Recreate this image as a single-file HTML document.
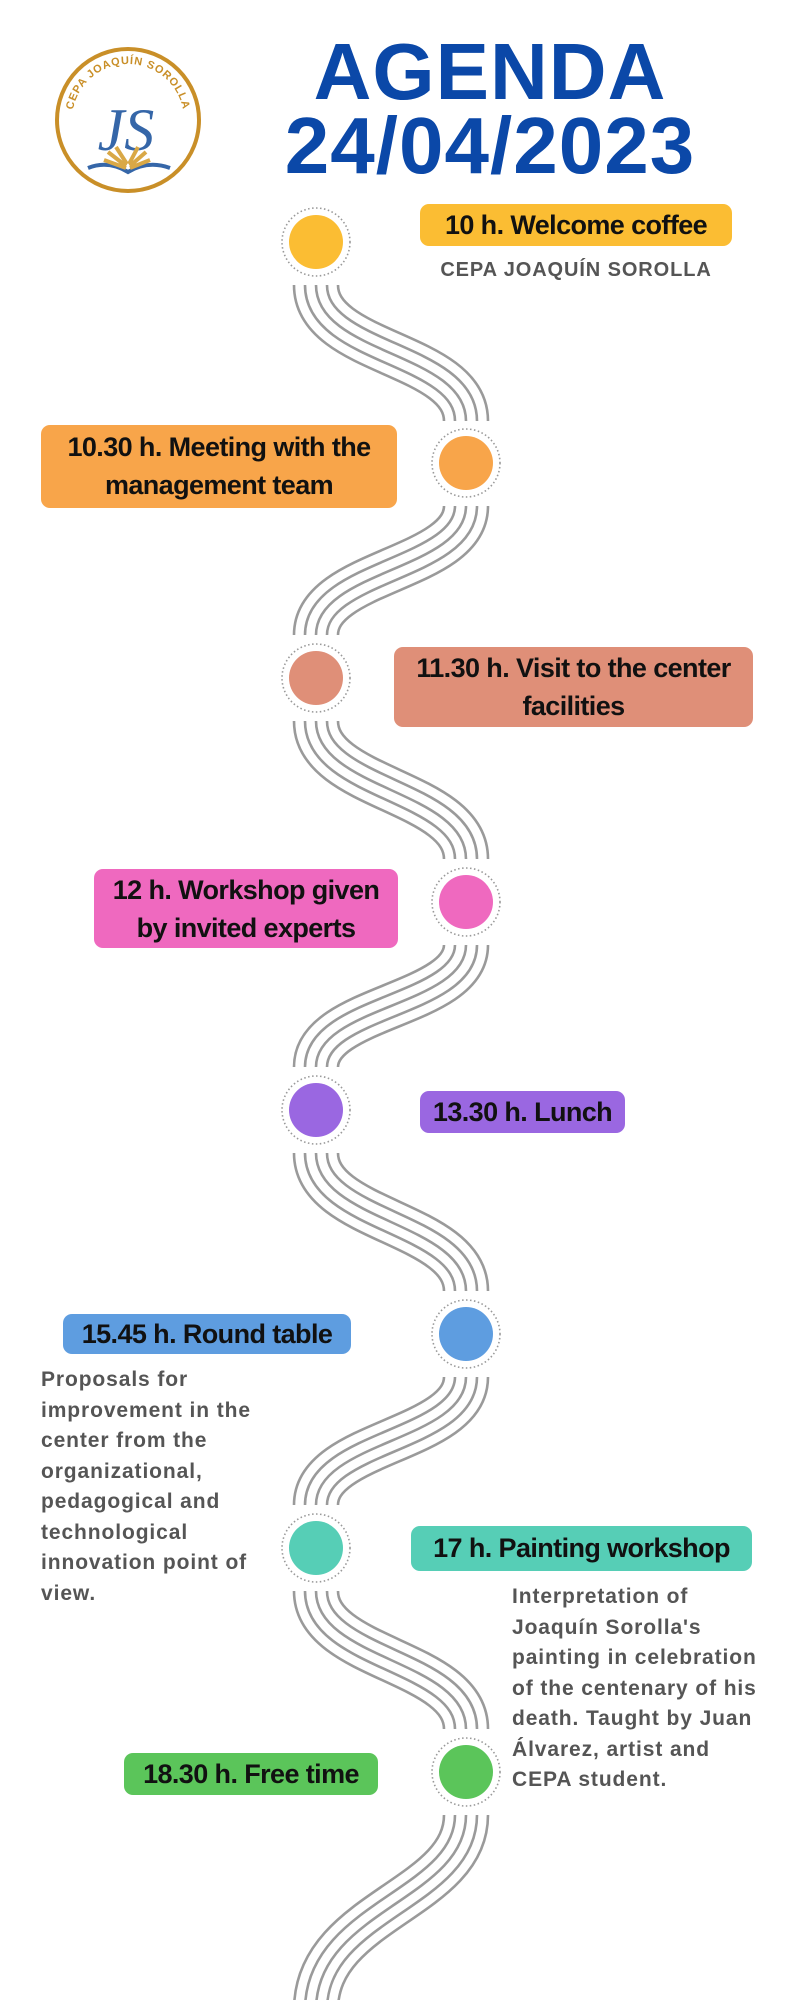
<!DOCTYPE html>
<html><head><meta charset="utf-8"><style>
html,body{margin:0;padding:0;background:#fff}
body{width:800px;height:2000px;position:relative;overflow:hidden;font-family:"Liberation Sans",sans-serif}
.t{position:absolute;font-weight:bold;color:#111;font-size:27px;text-align:center;border-radius:9px;line-height:38px;letter-spacing:-0.6px;white-space:nowrap}
.d{position:absolute;font-weight:bold;color:#555;font-size:21px;line-height:30.5px;letter-spacing:0.9px;white-space:nowrap}
.h{position:absolute;left:270px;width:440px;text-align:center;color:#0b48a8;font-weight:bold;font-size:80px;line-height:80px;letter-spacing:1px}
</style></head><body>
<svg width="800" height="2000" style="position:absolute;left:0;top:0">
<defs>
<path id="arc" d="M 72 120 A 56 56 0 0 1 184 120"/>
<g id="all" fill="none">
<path d="M316 285 C316 355 466 352 466 421"/>
<path d="M466 506 C466 570 316 570 316 635"/>
<path d="M316 721 C316 790 466 790 466 859"/>
<path d="M466 945 C466 1006 316 1006 316 1067"/>
<path d="M316 1153 C316 1222 466 1222 466 1291"/>
<path d="M466 1377 C466 1441 316 1441 316 1505"/>
<path d="M316 1591 C316 1660 466 1660 466 1729"/>
<path d="M466 1815 C466 1900 316 1910 316 2010"/>
</g>
</defs>
<!-- logo -->
<circle cx="128" cy="120" r="71" fill="#fff" stroke="#c98f28" stroke-width="4"/>
<text font-family="Liberation Sans,sans-serif" font-weight="bold" font-size="11" fill="#c98f28" letter-spacing="0.8"><textPath href="#arc" startOffset="50%" text-anchor="middle">CEPA JOAQUÍN SOROLLA</textPath></text>
<text x="126" y="150" text-anchor="middle" font-family="Liberation Serif,serif" font-style="italic" font-size="60" fill="#3566a8">JS</text>
<path d="M88 168 Q108 160 128 172 Q148 160 170 168" fill="none" stroke="#3566a8" stroke-width="4"/>
<path d="M104 160 L126 168 M108 152 L126 166 M116 147 L127 164 M150 160 L130 168 M146 152 L130 166 M138 147 L129 164" stroke="#d9a846" stroke-width="4"/>
<!-- waves -->
<use href="#all" stroke="#9a9a9a" stroke-width="46.6"/>
<use href="#all" stroke="#fff" stroke-width="41.4"/>
<use href="#all" stroke="#9a9a9a" stroke-width="24.6"/>
<use href="#all" stroke="#fff" stroke-width="19.4"/>
<use href="#all" stroke="#9a9a9a" stroke-width="2.6"/>
<!-- nodes -->
<g stroke="#999" stroke-width="1.6" stroke-dasharray="1.5 2.5" fill="#fff">
<circle cx="316" cy="242" r="34"/><circle cx="466" cy="463" r="34"/><circle cx="316" cy="678" r="34"/><circle cx="466" cy="902" r="34"/>
<circle cx="316" cy="1110" r="34"/><circle cx="466" cy="1334" r="34"/><circle cx="316" cy="1548" r="34"/><circle cx="466" cy="1772" r="34"/>
</g>
<circle cx="316" cy="242" r="27" fill="#fbbd33"/>
<circle cx="466" cy="463" r="27" fill="#f8a54a"/>
<circle cx="316" cy="678" r="27" fill="#df8f78"/>
<circle cx="466" cy="902" r="27" fill="#ef69bf"/>
<circle cx="316" cy="1110" r="27" fill="#9a67e1"/>
<circle cx="466" cy="1334" r="27" fill="#5e9de0"/>
<circle cx="316" cy="1548" r="27" fill="#56ceb6"/>
<circle cx="466" cy="1772" r="27" fill="#5bc55a"/>
</svg>
<div class="h" style="top:32px">AGENDA</div>
<div class="h" style="top:106px">24/04/2023</div>
<div class="t" style="left:420px;top:204px;width:312px;height:42px;line-height:42px;background:#fbbd33">10 h. Welcome coffee</div>
<div class="d" style="left:420px;top:255px;width:312px;text-align:center;color:#555;font-size:20px">CEPA JOAQUÍN SOROLLA</div>
<div class="t" style="left:41px;top:425px;width:356px;height:83px;padding-top:3px;box-sizing:border-box;background:#f8a54a">10.30 h. Meeting with the<br>management team</div>
<div class="t" style="left:394px;top:647px;width:359px;height:80px;padding-top:2px;box-sizing:border-box;background:#df8f78">11.30 h. Visit to the center<br>facilities</div>
<div class="t" style="left:94px;top:869px;width:304px;height:79px;padding-top:2px;box-sizing:border-box;background:#ef69bf">12 h. Workshop given<br>by invited experts</div>
<div class="t" style="left:420px;top:1091px;width:205px;height:42px;line-height:42px;background:#9a67e1">13.30 h. Lunch</div>
<div class="t" style="left:63px;top:1314px;width:288px;height:40px;line-height:40px;background:#5e9de0">15.45 h. Round table</div>
<div class="d" style="left:41px;top:1365px">Proposals for<br>improvement in the<br>center from the<br>organizational,<br>pedagogical and<br>technological<br>innovation point of<br>view.</div>
<div class="t" style="left:411px;top:1526px;width:341px;height:45px;line-height:45px;background:#56ceb6">17 h. Painting workshop</div>
<div class="d" style="left:512px;top:1582px">Interpretation of<br>Joaquín Sorolla's<br>painting in celebration<br>of the centenary of his<br>death. Taught by Juan<br>Álvarez, artist and<br>CEPA student.</div>
<div class="t" style="left:124px;top:1753px;width:254px;height:42px;line-height:42px;background:#5bc55a">18.30 h. Free time</div>
</body></html>
